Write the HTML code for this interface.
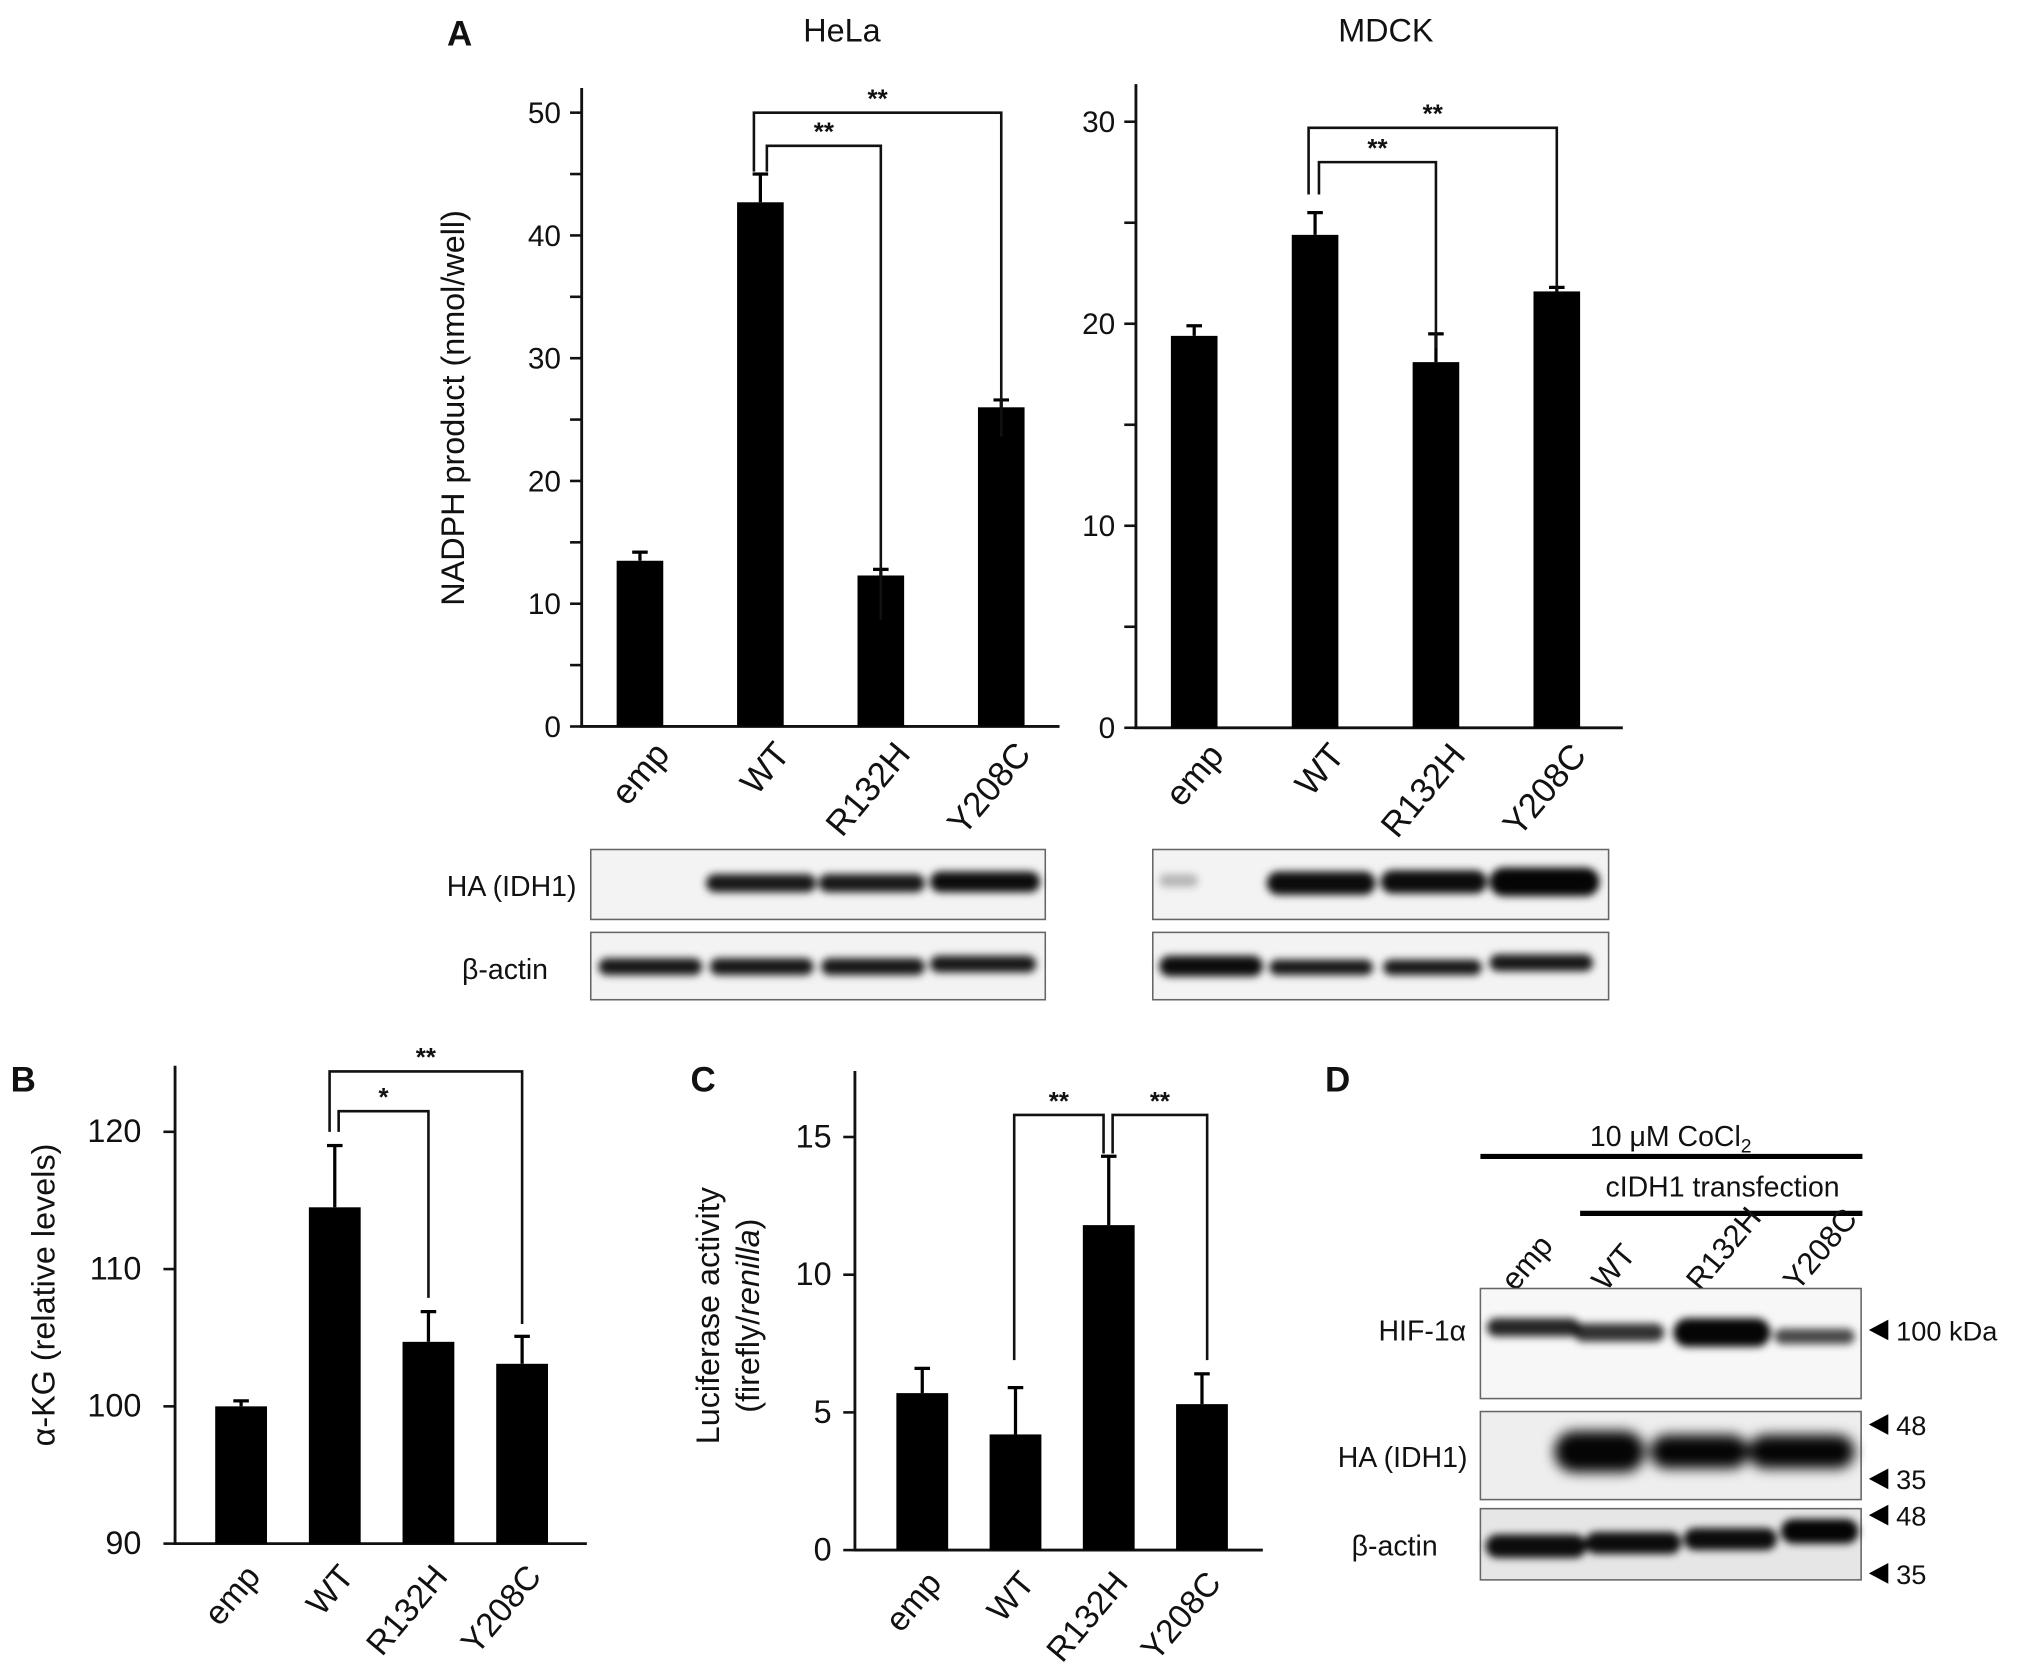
<!DOCTYPE html>
<html><head><meta charset="utf-8"><style>
html,body{margin:0;padding:0;background:#fff}
svg{display:block}
text{font-family:"Liberation Sans",Arial,sans-serif;fill:#111}
</style></head><body>
<svg id="fig" width="2031" height="1677" viewBox="0 0 1568 1295" xmlns="http://www.w3.org/2000/svg">
<defs>
<filter id="blur" x="-20%" y="-50%" width="140%" height="200%"><feGaussianBlur stdDeviation="3"/></filter>
<filter id="blur2" x="-20%" y="-50%" width="140%" height="200%"><feGaussianBlur stdDeviation="5"/></filter>
</defs>
<g id="root"></g>
</svg>
<script>
const categories = ["emp","WT","R132H","Y208C"];
const helaValues = [13.5, 42.7, 12.3, 26.0];
const helaErrors = [0.7, 2.3, 0.5, 0.6];
const helaTicks = [0,10,20,30,40,50];
const mdckValues = [19.4, 24.4, 18.1, 21.6];
const mdckErrors = [0.5, 1.1, 1.4, 0.2];
const mdckTicks = [0,10,20,30];
const akgValues = [100, 114.5, 104.7, 103.1];
const akgErrors = [0.4, 4.5, 2.2, 2.0];
const akgTicks = [90,100,110,120];
const lucValues = [5.7, 4.2, 11.8, 5.3];
const lucErrors = [0.9, 1.7, 2.5, 1.1];
const lucTicks = [0,5,10,15];

const NS="http://www.w3.org/2000/svg";
const root=document.getElementById('root');
function el(tag,attrs,parent,txt){const e=document.createElementNS(NS,tag);for(const k in attrs)e.setAttribute(k,attrs[k]);if(txt!==undefined)e.textContent=txt;(parent||root).appendChild(e);return e;}

function panel(cfg){
  const g=el('g',{});
  
  
  const y=v=>cfg.y0-(v-cfg.vmin)*(cfg.y0-cfg.yMaxPx)/(cfg.vmax-cfg.vmin);
  const xc=i=>cfg.xs[0]+i*(cfg.xs[1]-cfg.xs[0])/3;
  const ax=el('path',{d:`M${cfg.ax} ${cfg.top} V${cfg.y0} H${cfg.axEnd}`,fill:'none',stroke:'#111','stroke-width':2.2},g);
  
  
  cfg.ticks.forEach(t=>{
    el('line',{x1:cfg.ax-9,x2:cfg.ax,y1:y(t),y2:y(t),stroke:'#111','stroke-width':2},g);
    const tl=el('text',{x:cfg.ax-(cfg.labGap||16),y:y(t)+8,'text-anchor':'end','font-size':cfg.tfs||23},g,String(t));
    
    
  });
  (cfg.minor||[]).forEach(t=>el('line',{x1:cfg.ax-9,x2:cfg.ax,y1:y(t),y2:y(t),stroke:'#111','stroke-width':2},g));
  const vals=cfg.values, errs=cfg.errors;
  vals.forEach((v,i)=>{
    const cx=xc(i);
    const b=el('rect',{x:cx-cfg.bw/2,y:y(v),width:cfg.bw,height:cfg.y0-y(v),fill:'#000'},g);
    
    
    const top=y(v+errs[i]);
    el('line',{x1:cx,x2:cx,y1:y(v),y2:top,stroke:'#000','stroke-width':2.5},g);
    el('line',{x1:cx-6,x2:cx+6,y1:top,y2:top,stroke:'#000','stroke-width':2.5},g);
    const lx=cx+cfg.labDx, ly=cfg.y0+cfg.labDy;
    const lab=el('text',{x:lx,y:ly,'text-anchor':'end','font-size':cfg.lfs||25,transform:`rotate(-50 ${lx} ${ly})`},g,categories[i]);
    
    
  });
  cfg.brackets.forEach(br=>{
    const x1=xc(br.a)+br.oa, x2=xc(br.b)+br.ob, yb=y(br.lv);
    const p=el('path',{d:`M${x1} ${y(br.ea)} V${yb} H${x2} V${y(br.eb)}`,fill:'none',stroke:'#111','stroke-width':2},g);
    
    
    el('text',{x:(x1+x2)/2,y:yb-4,'text-anchor':'middle','font-size':20,'font-weight':'bold'},g,br.s);
  });
  return g;
}

panel({name:'hela-chart',values:helaValues,errors:helaErrors,ticks:helaTicks,minor:[5,15,25,35,45],vmin:0,vmax:50,y0:561,yMaxPx:87,top:68,ax:449,axEnd:818,xs:[494,773],bw:36,labDx:24,labDy:22,lfs:27,
  brackets:[{a:1,b:2,oa:5,ob:0,lv:47.3,ea:45.2,eb:8.7,s:'**'},{a:1,b:3,oa:-5,ob:0,lv:50,ea:45.2,eb:23.6,s:'**'}]});
panel({name:'mdck-chart',values:mdckValues,errors:mdckErrors,ticks:mdckTicks,minor:[5,15,25],vmin:0,vmax:30,y0:562,yMaxPx:94,top:65,ax:877,axEnd:1253,xs:[922,1202],bw:36,labDx:24,labDy:22,lfs:27,
  brackets:[{a:1,b:2,oa:3,ob:0,lv:28,ea:26.4,eb:18.8,s:'**'},{a:1,b:3,oa:-5,ob:0,lv:29.7,ea:26.4,eb:21.6,s:'**'}]});
panel({name:'akg-chart',values:akgValues,errors:akgErrors,ticks:akgTicks,vmin:90,vmax:120,y0:1192,yMaxPx:874,top:823,ax:135,axEnd:453,xs:[186,403],bw:40,labDx:16,labDy:26,lfs:26,tfs:25,labGap:26,
  brackets:[{a:1,b:2,oa:3,ob:0,lv:121.5,ea:120,eb:107.9,s:'*'},{a:1,b:3,oa:-4,ob:0,lv:124.4,ea:120,eb:106.0,s:'**'}]});
panel({name:'luciferase-chart',values:lucValues,errors:lucErrors,ticks:lucTicks,vmin:0,vmax:15,y0:1197,yMaxPx:878,top:827,ax:660,axEnd:975,xs:[712,928],bw:40,labDx:16,labDy:26,lfs:26,tfs:25,labGap:18,
  brackets:[{a:1,b:2,oa:-1,ob:-4,lv:15.8,ea:6.9,eb:14.4,s:'**'},{a:2,b:3,oa:3,ob:4,lv:15.8,ea:14.4,eb:6.9,s:'**'}]});

function T(x,y,s,fs,opt,name){const t=el('text',Object.assign({x:x,y:y,'font-size':fs},opt||{}),root,s);return t;}
T(345,35,'A',27,{'font-weight':'bold'},'panel-label-a');
T(650,32,'HeLa',25,{'text-anchor':'middle'},'hela-title');
T(1070,32,'MDCK',25,{'text-anchor':'middle'},'mdck-title');
T(0,0,'NADPH product (nmol/well)',25,{'text-anchor':'middle',transform:'translate(358 315) rotate(-90)'},'hela-y-title');
T(8,843,'B',27,{'font-weight':'bold'},'panel-label-b');
T(0,0,'α-KG (relative levels)',25,{'text-anchor':'middle',transform:'translate(42 1000) rotate(-90)'},'akg-y-title');
T(533,843,'C',27,{'font-weight':'bold'},'panel-label-c');
const yt=el('text',{'font-size':25,'text-anchor':'middle',transform:'translate(555 1016) rotate(-90)'});
yt.textContent='Luciferase activity';


const yt2=el('text',{'font-size':25,'text-anchor':'middle',transform:'translate(586 1016) rotate(-90)'});
yt2.innerHTML='(firefly/<tspan font-style="italic">renilla</tspan>)';


T(1023,843,'D',27,{'font-weight':'bold'},'panel-label-d');
const co=T(1290,885,'10 μM CoCl',22,{'text-anchor':'middle'},'cocl2-label');
el('tspan',{'font-size':15,dy:5},co,'2');
el('line',{x1:1143,x2:1438,y1:893,y2:893,stroke:'#000','stroke-width':4});
T(1330,924,'cIDH1 transfection',22,{'text-anchor':'middle'},'transfection-label');
el('line',{x1:1220,x2:1438,y1:937,y2:937,stroke:'#000','stroke-width':4});
const dl=[1170,1240,1313,1388];
categories.forEach((c,i)=>{T(0,0,c,24,{transform:`translate(${dl[i]} 998) rotate(-50)`},'lane-label-'+c.toLowerCase());});

function blot(x,y,w,h,bands,name,blurId,bg){
  const g=el('g',{});
  
  
  el('rect',{x:x,y:y,width:w,height:h,fill:bg||'#f3f3f3',stroke:'#666','stroke-width':1.2},g);
  const cg=el('g',{filter:`url(#${blurId||'blur'})`},g);
  bands.forEach(b=>el('rect',{x:b[0],y:b[1],width:b[2],height:b[3],rx:b[3]/2,fill:'#000','fill-opacity':b[4]},cg));
}
blot(456,656,351,54,[[545,675,85,14,0.9],[632,675,82,14,0.9],[718,673,85,16,0.95]],'hela-ha-blot');
blot(456,720,351,52,[[462,740,80,13,0.9],[548,740,80,13,0.9],[634,740,80,13,0.9],[718,738,82,13,0.9]],'hela-actin-blot');
blot(890,656,352,54,[[895,675,30,10,0.25],[978,673,84,18,0.95],[1066,672,82,18,0.95],[1150,670,85,22,0.98]],'mdck-ha-blot');
blot(890,720,352,52,[[895,738,80,16,0.95],[980,741,80,12,0.9],[1068,741,76,12,0.9],[1150,737,80,13,0.9]],'mdck-actin-blot');
blot(1143,995,294,85,[[1148,1018,72,14,0.85],[1215,1022,70,14,0.8],[1292,1018,75,22,0.98],[1370,1026,62,12,0.7]],'hif-blot','blur','#f7f7f7');
blot(1143,1090,294,68,[[1200,1105,70,32,0.98],[1274,1108,76,26,0.98],[1350,1108,82,26,0.98]],'ha-idh1-blot','blur2','#eeeeee');
blot(1143,1165,294,55,[[1147,1185,78,18,0.95],[1224,1183,74,17,0.95],[1300,1180,72,17,0.95],[1375,1173,60,19,0.98]],'d-actin-blot','blur','#e6e6e6');

T(445,692,'HA (IDH1)',22,{'text-anchor':'end'},'ha-label-a');
T(423,756,'β-actin',22,{'text-anchor':'end'},'actin-label-a');
T(1132,1035,'HIF-1α',22,{'text-anchor':'end'},'hif-label');
T(1133,1133,'HA (IDH1)',22,{'text-anchor':'end'},'ha-label-d');
T(1110,1201,'β-actin',22,{'text-anchor':'end'},'actin-label-d');
const mk=[[1027,'100 kDa'],[1100,'48'],[1142,'35'],[1170,'48'],[1215,'35']];
mk.forEach(m=>{el('path',{d:`M1443 ${m[0]} L1458 ${m[0]-8} L1458 ${m[0]+8} Z`,fill:'#000'});T(1464,m[0]+8,m[1],21,{},'mw-marker');});
</script>
</body></html>
